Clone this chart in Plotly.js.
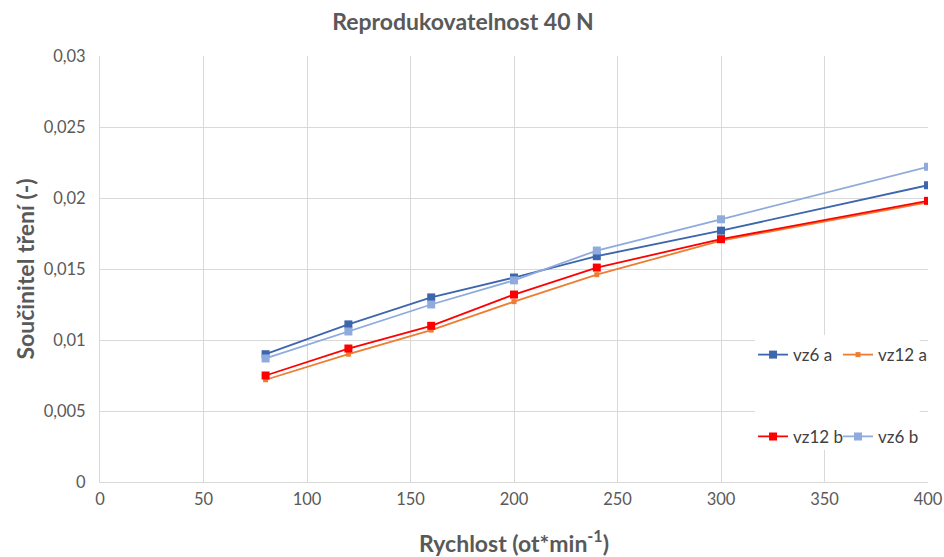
<!DOCTYPE html>
<html>
<head>
<meta charset="utf-8">
<script src="https://cdn.plot.ly/plotly-3.0.1.min.js"></script>
<style>html,body{margin:0;padding:0;background:#fff;}#chart{width:944px;height:557px;}</style>
</head>
<body>
<div id="chart"></div>
<script>
var speeds = [80, 120, 160, 200, 240, 300, 400];
var vz6a  = [0.0090, 0.0111, 0.0130, 0.0144, 0.0159, 0.0177, 0.0209];
var vz12a = [0.0072, 0.0090, 0.0107, 0.0127, 0.0146, 0.0170, 0.0197];
var vz12b = [0.0075, 0.0094, 0.0110, 0.0132, 0.0151, 0.0171, 0.0198];
var vz6b  = [0.0087, 0.0106, 0.0125, 0.0142, 0.0163, 0.0185, 0.0222];
var yTickVals = [0, 0.005, 0.01, 0.015, 0.02, 0.025, 0.03];
var yTickText = ["0", "0,005", "0,01", "0,015", "0,02", "0,025", "0,03"];
var xTickVals = [0, 50, 100, 150, 200, 250, 300, 350, 400];

var traces = [
  {name: "vz6 a", x: speeds, y: vz6a, mode: "lines+markers", legend: "legend",
   line: {color: "#3d66ad", width: 1.8}, marker: {symbol: "square", size: 8, color: "#3d66ad"}},
  {name: "vz12 a", x: speeds, y: vz12a, mode: "lines+markers", legend: "legend2",
   line: {color: "#ed7d31", width: 1.8}, marker: {symbol: "square", size: 5, color: "#ed7d31"}},
  {name: "vz12 b", x: speeds, y: vz12b, mode: "lines+markers", legend: "legend3",
   line: {color: "#ff0000", width: 1.8}, marker: {symbol: "square", size: 8, color: "#ff0000"}},
  {name: "vz6 b", x: speeds, y: vz6b, mode: "lines+markers", legend: "legend4",
   line: {color: "#8faadc", width: 1.8}, marker: {symbol: "square", size: 8, color: "#8faadc"}}
];

var fontFam = "Lato, 'Open Sans', sans-serif";
function leg(x, y) {
  return {orientation: "h", x: x, y: y, xanchor: "left", yanchor: "middle",
          bgcolor: "rgba(0,0,0,0)", font: {size: 17, color: "#404040"}, itemwidth: 30};
}
var layout = {
  width: 944, height: 557,
  margin: {l: 100, r: 16, t: 56, b: 75, autoexpand: false},
  paper_bgcolor: "#ffffff", plot_bgcolor: "#ffffff",
  font: {family: fontFam, color: "#595959", size: 16},
  title: {text: "<b>Reprodukovatelnost 40 N</b>", x: 463/944, xref: "container", xanchor: "center",
          y: 1 - 22/557, yref: "container", yanchor: "middle", font: {size: 23, color: "#595959", family: fontFam}},
  xaxis: {range: [0, 400], tickvals: xTickVals, showgrid: true, gridcolor: "#d9d9d9", gridwidth: 1,
          showline: true, linecolor: "#d9d9d9", zeroline: false, ticks: "", ticklen: 0,
          ticklabelstandoff: 2, tickfont: {size: 16.5, color: "#595959"},
          title: {text: "<b>Rychlost (ot*min<sup>-1</sup>)</b>", font: {size: 23, color: "#595959"}, standoff: 28}},
  yaxis: {range: [0, 0.03], tickvals: yTickVals, ticktext: yTickText, showgrid: true, gridcolor: "#d9d9d9", gridwidth: 1,
          showline: true, linecolor: "#d9d9d9", zeroline: false, ticks: "", ticklen: 0,
          ticklabelstandoff: 10, tickfont: {size: 16.5, color: "#595959"},
          title: {text: "<b>Součinitel tření (-)</b>", font: {size: 23, color: "#595959"}, standoff: 2}},
  shapes: [{type: "rect", xref: "paper", yref: "paper", x0: 0.791, x1: 0.99, y0: 0.075, y1: 0.345,
            fillcolor: "#ffffff", line: {width: 0}, layer: "above"}],
  legend: leg(0.7887, 0.298),
  legend2: leg(0.8913, 0.298),
  legend3: leg(0.7887, 0.106),
  legend4: leg(0.8913, 0.106),
  showlegend: true
};

Plotly.newPlot("chart", traces, layout, {displayModeBar: false, staticPlot: true});
</script>
</body>
</html>
